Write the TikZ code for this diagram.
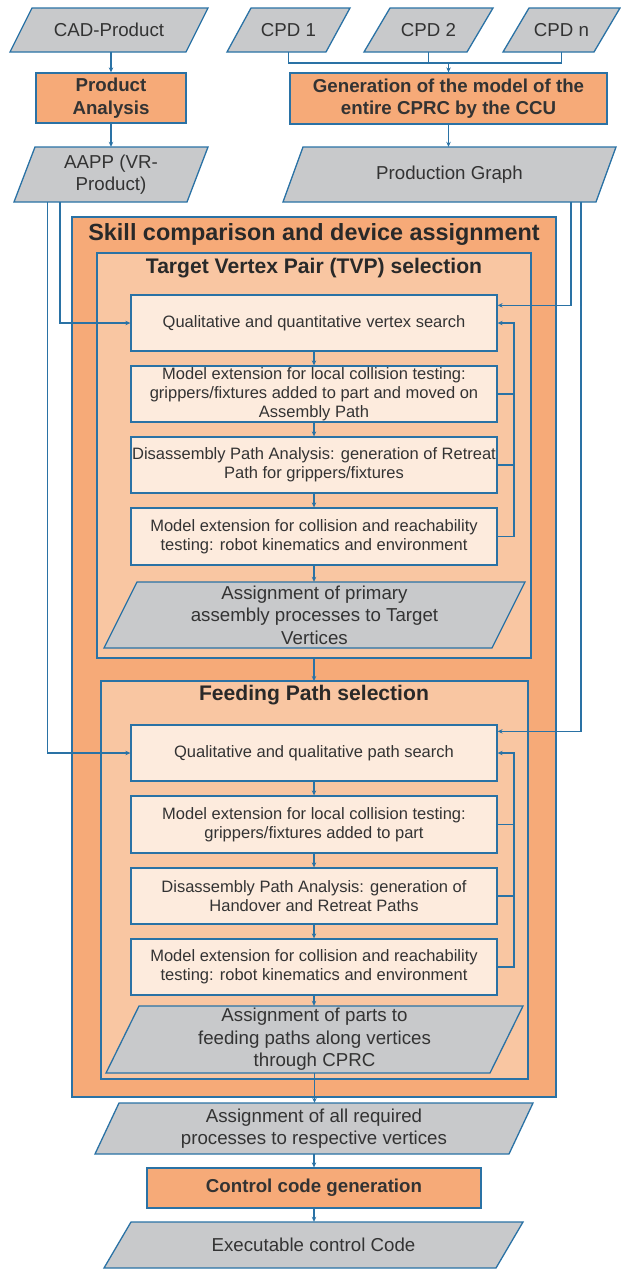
\documentclass[tikz,border=0pt]{standalone}
\usepackage{fontspec}
\setmainfont{Liberation Sans}
\usetikzlibrary{arrows.meta,calc}

\definecolor{linec}{HTML}{2A72A5}
\definecolor{grayf}{HTML}{C8C9CB}
\definecolor{orangeA}{HTML}{F6AA78}
\definecolor{orangeB}{HTML}{F9C6A2}
\definecolor{orangeC}{HTML}{FDEBDD}
\definecolor{txt}{HTML}{333333}

\newcommand\bodyfont{\fontsize{16.5}{19}\selectfont}
\newcommand\bigfont{\fontsize{18.7}{22.4}\selectfont}

% rectangular node from its corner coordinates
\newcommand\rectnode[7]{%
  \node[#6, minimum width={#4-#2}, minimum height={#5-#3}] (#1)
    at ({(#2+#4)/2},{(#3+#5)/2}) {#7};}
% data parallelogram: name, bottom-left x, top-right x, top y, bottom y, slant, style, text
\newcommand\paranode[8]{%
  \filldraw[#7] (#2,#5) -- ({#2+#6},#4) -- (#3,#4) -- ({#3-#6},#5) -- cycle;
  \node[ptext, minimum width={#3-#2}, minimum height={#5-#4}] (#1)
    at ({(#2+#3)/2},{(#4+#5)/2}) {#8};}

\tikzset{
  outline/.style={draw=linec, line width=1.3pt},
  databox/.style={outline, fill=grayf},
  ptext/.style={inner sep=0pt, align=center, text=txt, font=\bigfont},
  procbox/.style={outline, fill=orangeA, inner sep=0pt, align=center, text=txt, font=\bigfont\bfseries},
  stepbox/.style={outline, fill=orangeC, inner sep=0pt, align=center, text=txt, font=\bodyfont},
  conn/.style={draw=linec, line width=1.1pt},
  arr/.style={conn, -{Stealth[length=5pt,width=4.5pt]}},
  grouptitle/.style={text=txt!80!black, font=\fontsize{21.1}{24}\selectfont\bfseries, inner sep=0pt},
}

\begin{document}
\begin{tikzpicture}[x=1pt,y=-1pt]
\useasboundingbox (0,0) rectangle (621,1270);

% inputs
\paranode{cad}{10}{208}{8}{52}{22}{databox}{CAD-Product}
\paranode{cpda}{227}{350}{8}{52}{24}{databox}{CPD 1}
\paranode{cpdb}{364}{493}{8}{52}{26}{databox}{CPD 2}
\paranode{cpdn}{503}{620}{8}{52}{26}{databox}{CPD n}

\rectnode{pa}{36}{73}{186}{123}{procbox}{Product\\Analysis}
\rectnode{gen}{290}{73}{607}{124}{procbox}{Generation of the model of the\\entire CPRC by the CCU}

\paranode{aapp}{14}{208}{147}{202}{21}{databox}{AAPP (VR-\\Product)}
\paranode{pg}{283}{616}{147}{202}{20}{databox}{Production Graph}

% nested group frames
\filldraw[outline, fill=orangeA] (72,217) rectangle (556,1097);
\node[grouptitle, font=\fontsize{23.4}{26}\selectfont\bfseries] (skilltitle) at (314,234) {Skill comparison and device assignment};

\filldraw[outline, fill=orangeB] (97,253) rectangle (531,658);
\coordinate (tvpN) at (314,253);
\coordinate (tvpS) at (314,658);
\node[grouptitle] (tvptitle) at (314,268) {Target Vertex Pair (TVP) selection};

\rectnode{vs}{131}{295}{497}{351}{stepbox}{Qualitative and quantitative vertex search}
\rectnode{vb2}{131}{366}{497}{422}{stepbox}{Model extension for local collision testing:\\grippers/fixtures added to part and moved on\\Assembly Path}
\rectnode{vb3}{131}{437}{497}{493}{stepbox}{Disassembly Path Analysis: generation of Retreat\\Path for grippers/fixtures}
\rectnode{vb4}{131}{508}{497}{565}{stepbox}{Model extension for collision and reachability\\testing: robot kinematics and environment}
\paranode{apa}{104}{525}{582}{648}{33}{databox}{Assignment of primary\\assembly processes to Target\\Vertices}

\filldraw[outline, fill=orangeB] (101,681) rectangle (528,1079);
\coordinate (fdN) at (314,681);
\node[grouptitle] (fdtitle) at (314,695) {Feeding Path selection};

\rectnode{ps}{131}{725}{497}{781}{stepbox}{Qualitative and qualitative path search}
\rectnode{pb2}{131}{796}{497}{853}{stepbox}{Model extension for local collision testing:\\grippers/fixtures added to part}
\rectnode{pb3}{131}{868}{497}{924}{stepbox}{Disassembly Path Analysis: generation of\\Handover and Retreat Paths}
\rectnode{pb4}{131}{939}{497}{995}{stepbox}{Model extension for collision and reachability\\testing: robot kinematics and environment}
\paranode{apf}{106}{523}{1006}{1073}{33}{databox}{Assignment of parts to\\feeding paths along vertices\\through CPRC}

% outputs
\paranode{aar}{95}{533}{1103}{1154}{24}{databox}{Assignment of all required\\processes to respective vertices}
\rectnode{ccg}{147}{1168}{481}{1208}{procbox}{Control code generation}
\paranode{exe}{104}{523}{1222}{1268}{27}{databox}{Executable control Code}

% routing helpers
\coordinate (bus) at (0,63);
\coordinate (aL1) at (47.5,0);
\coordinate (aL2) at (60,0);
\coordinate (pR1) at (571,0);
\coordinate (pR2) at (581,0);
\coordinate (fb) at (514,0);

% connectors at the top
\draw[arr] (cad.south -| pa.north) -- (pa.north);
\draw[arr] (pa.south) -- (pa.south |- aapp.north);
\draw[conn] (cpda.south) |- (cpdn.south |- bus) -- (cpdn.south);
\draw[conn] (cpdb.south) -- (cpdb.south |- bus);
\draw[arr] (gen.north |- bus) -- (gen.north);
\draw[arr] (gen.south) -- (gen.south |- pg.north);

% inputs into the two searches
\draw[arr] (aapp.south -| aL2) |- (vs.west);
\draw[arr] (aapp.south -| aL1) |- (ps.west);
\draw[arr] (pg.south -| pR1) |- ($(vs.north east)+(0,11)$);
\draw[arr] (pg.south -| pR2) |- ($(ps.north east)+(0,7)$);

% TVP chain
\draw[arr] (vs.south) -- (vb2.north);
\draw[arr] (vb2.south) -- (vb3.north);
\draw[arr] (vb3.south) -- (vb4.north);
\draw[arr] (vb4.south) -- (vb4.south |- apa.north);
\draw[arr] (vb4.east) -| (fb |- vs.east) -- (vs.east);
\draw[conn] (vb2.east) -- (vb2.east -| fb);
\draw[conn] (vb3.east) -- (vb3.east -| fb);

\draw[arr] (tvpS) -- (fdN);

% feeding chain
\draw[arr] (ps.south) -- (pb2.north);
\draw[arr] (pb2.south) -- (pb3.north);
\draw[arr] (pb3.south) -- (pb4.north);
\draw[arr] (pb4.south) -- (pb4.south |- apf.north);
\draw[arr] (pb4.east) -| (fb |- ps.east) -- (ps.east);
\draw[conn] (pb2.east) -- (pb2.east -| fb);
\draw[conn] (pb3.east) -- (pb3.east -| fb);

% final steps
\draw[arr] (apf.south) -- (apf.south |- aar.north);
\draw[arr] (aar.south) -- (aar.south |- ccg.north);
\draw[arr] (ccg.south) -- (ccg.south |- exe.north);
\end{tikzpicture}
\end{document}
